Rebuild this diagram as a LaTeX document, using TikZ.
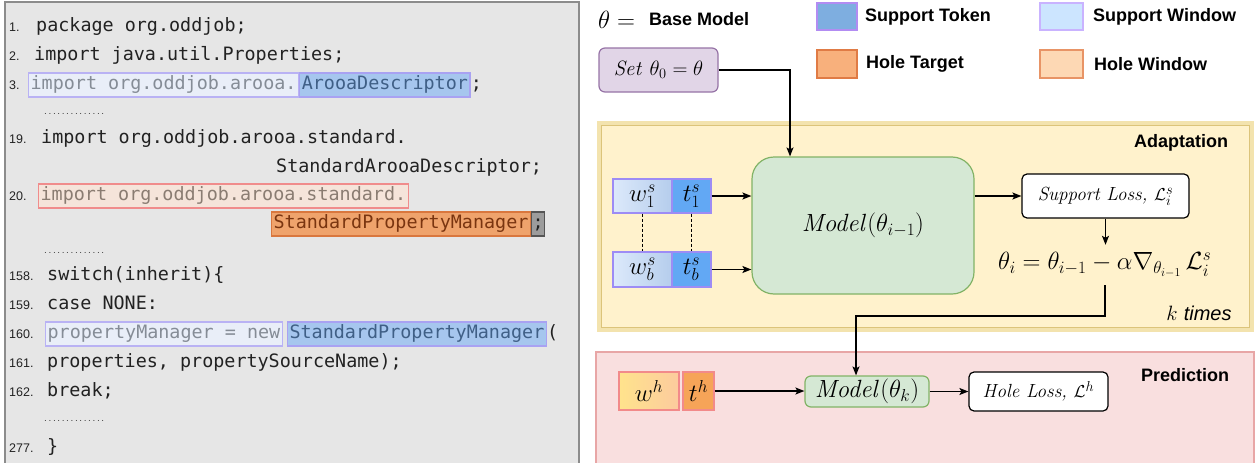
\documentclass[tikz,border=0pt]{standalone}
\usepackage[no-math]{fontspec}
\usetikzlibrary{arrows.meta}
\newfontfamily\labfont{Liberation Sans}
\newfontfamily\codefont{DejaVu Sans Mono}
\definecolor{panelfill}{HTML}{E6E6E6}
\definecolor{panelline}{HTML}{8C8C8C}
\definecolor{codetext}{HTML}{222222}
\definecolor{swinfill}{HTML}{E9EEF8}
\definecolor{swinline}{HTML}{B9B2F4}
\definecolor{swintext}{HTML}{858C96}
\definecolor{stokfill}{HTML}{A6C6EE}
\definecolor{stokline}{HTML}{A9A2F2}
\definecolor{stoktext}{HTML}{3F5F86}
\definecolor{hwinfill}{HTML}{F5E4DA}
\definecolor{hwinline}{HTML}{F08C8C}
\definecolor{hwintext}{HTML}{8A7C72}
\definecolor{htokfill}{HTML}{EFA36C}
\definecolor{htokline}{HTML}{D9773E}
\definecolor{htoktext}{HTML}{7A3510}
\definecolor{semifill}{HTML}{9C9C9C}
\definecolor{semiline}{HTML}{555555}
\definecolor{adfill}{HTML}{FFF2CC}
\definecolor{adout}{HTML}{F3E3AE}
\definecolor{adline}{HTML}{DCC47A}
\definecolor{prfill}{HTML}{F9DFDF}
\definecolor{prline}{HTML}{E8A6A6}
\definecolor{mfill}{HTML}{D5E8D4}
\definecolor{mline}{HTML}{82B366}
\definecolor{setfill}{HTML}{E1D5E7}
\definecolor{setline}{HTML}{9673A6}
\definecolor{legtokfill}{HTML}{7EAEE0}
\definecolor{legtokline}{HTML}{B28CF2}
\definecolor{legwinfill}{HTML}{CCE5FF}
\definecolor{legwinline}{HTML}{C9B3FF}
\definecolor{leghtfill}{HTML}{F8B07C}
\definecolor{leghtline}{HTML}{E07B45}
\definecolor{leghwfill}{HTML}{FDD8B4}
\definecolor{leghwline}{HTML}{E89466}
\definecolor{wleft}{HTML}{DCE9FB}
\definecolor{wright}{HTML}{B5CDEC}
\definecolor{tfill}{HTML}{62A8F4}
\definecolor{wsline}{HTML}{9D8CF5}
\definecolor{whleft}{HTML}{FFE38C}
\definecolor{whright}{HTML}{FCCB9E}
\definecolor{thfill}{HTML}{F6A458}
\definecolor{whline}{HTML}{F28A8A}
\begin{document}
\begin{tikzpicture}[x=1pt,y=-1pt,
  code/.style={font=\codefont\fontsize{18.4}{20}\selectfont, text=codetext, inner sep=0pt, anchor=base west},
  lnum/.style={font=\labfont\fontsize{12.5}{14}\selectfont, text=codetext, inner sep=0pt, anchor=base west},
  dots/.style={inner sep=0pt, anchor=base west, text=codetext},
  hlbox/.style={code, inner xsep=2pt, inner ysep=2pt, text height=14pt, text depth=6pt, line width=1.3pt},
  swin/.style={hlbox, fill=swinfill, draw=swinline, text=swintext},
  stok/.style={hlbox, fill=stokfill, draw=stokline, text=stoktext},
  hwin/.style={hlbox, fill=hwinfill, draw=hwinline, text=hwintext},
  htok/.style={hlbox, fill=htokfill, draw=htokline, text=htoktext},
  semibox/.style={hlbox, inner xsep=1pt, fill=semifill, draw=semiline, text=codetext},
  lab/.style={font=\labfont\bfseries\fontsize{18}{20}\selectfont, text=black, inner sep=0pt, anchor=west},
  legbox/.style={line width=1.5pt},
  arr/.style={-{Stealth[length=9pt,width=7pt,inset=2pt]}, line width=1.2pt, black},
  mathbig/.style={font=\fontsize{25}{27}\selectfont}
]
\useasboundingbox (0,0) rectangle (1256,463);

% ---------------- left panel ----------------
\fill[panelfill] (5,2) rectangle (579,463);
\draw[panelline, line width=1.5pt] (5,463) -- (5,2) -- (579,2) -- (579,463);

\node[lnum] (n1) at (9,31) {1.};
\node[code] (c1) at (36,31) {package org.oddjob;};
\node[lnum] (n2) at (9,60) {2.};
\node[code] (c2) at (34,60) {import java.util.Properties;};
\node[lnum] (n3) at (9,89) {3.};
\node[swin, anchor=base west] (c3a) at (28,89) {import org.oddjob.arooa.};
\node[stok, anchor=base west] (c3b) at (c3a.base east) {ArooaDescriptor};
\node[code] (c3c) at (c3b.base east) {;};
\node[dots] (d1) at (42,114) {\makebox[64pt][l]{\fontsize{10}{10}\selectfont\dotfill}};
\node[lnum] (n19) at (9,143) {19.};
\node[code] (c19) at (41,143) {import org.oddjob.arooa.standard.};
\node[code] (c19b) at (276,172) {StandardArooaDescriptor;};
\node[lnum] (n20) at (9,200) {20.};
\node[hwin, anchor=base west] (c20a) at (38,200) {import org.oddjob.arooa.standard.};
\node[htok, anchor=base west] (c20b) at (271,228) {StandardPropertyManager};
\node[semibox, anchor=base west] (c20c) at (c20b.base east) {;};
\node[dots] (d2) at (42,253) {\makebox[64pt][l]{\fontsize{10}{10}\selectfont\dotfill}};
\node[lnum] (n158) at (9,280) {158.};
\node[code] (c158) at (47,280) {switch(inherit)\{};
\node[lnum] (n159) at (9,309) {159.};
\node[code] (c159) at (47,309) {case NONE:};
\node[lnum] (n160) at (9,338) {160.};
\node[swin, anchor=base west] (c160a) at (45,338) {propertyManager = new};
\node[stok, anchor=base west] (c160b) at ([xshift=4pt]c160a.base east) {StandardPropertyManager};
\node[code] (c160c) at (c160b.base east) {(};
\node[lnum] (n161) at (9,367) {161.};
\node[code] (c161) at (47,367) {properties, propertySourceName);};
\node[lnum] (n162) at (9,396) {162.};
\node[code] (c162) at (47,396) {break;};
\node[dots] (d3) at (42,421) {\makebox[64pt][l]{\fontsize{10}{10}\selectfont\dotfill}};
\node[lnum] (n277) at (9,452) {277.};
\node[code] (c277) at (47,452) {\}};

% ---------------- legend ----------------
\node[inner sep=0pt, anchor=west] (theta) at (598,20) {\fontsize{23}{25}\selectfont$\theta=$};
\node[lab] (base) at (649,19) {Base Model};
\draw[legbox, fill=legtokfill, draw=legtokline] (817,3) rectangle (857,30);
\node[lab] (lst) at (865,17) {Support Token};
\draw[legbox, fill=legwinfill, draw=legwinline] (1040,3) rectangle (1083,30);
\node[lab] (lsw) at (1093,17) {Support Window};
\draw[legbox, fill=leghtfill, draw=leghtline] (817,50) rectangle (857,78);
\node[lab] (lht) at (866,64) {Hole Target};
\draw[legbox, fill=leghwfill, draw=leghwline] (1040,50) rectangle (1083,78);
\node[lab] (lhw) at (1094,64) {Hole Window};

% ---------------- Set box ----------------
\node[draw=setline, fill=setfill, line width=1.2pt, rounded corners=6pt, minimum width=119pt, minimum height=44pt, inner sep=0pt] (set) at (658.5,70) {\fontsize{21.5}{23}\selectfont$\mathit{Set}\ \theta_0=\theta$};

% ---------------- Adaptation ----------------
\draw[adout, fill=adfill, line width=5pt] (599,123) rectangle (1251,329);
\draw[adline, line width=0.9pt] (601,125) rectangle (1249,327);
\node[lab, anchor=center] (adlab) at (1181,143) {Adaptation};

\node[draw=mline, fill=mfill, line width=1.2pt, rounded corners=22pt, minimum width=222pt, minimum height=137pt, inner sep=0pt] (model) at (863,225.5) {\fontsize{23.5}{25}\selectfont$\mathit{Model}(\theta_{i-1})$};

\node[draw=wsline, line width=1.3pt, left color=wleft, right color=wright, minimum width=59pt, minimum height=34pt, inner sep=0pt, mathbig] (w1) at (642.5,196) {$w_1^s$};
\node[draw=wsline, line width=1.3pt, fill=tfill, minimum width=39pt, minimum height=34pt, inner sep=0pt, mathbig] (t1) at (691.5,196) {$t_1^s$};
\node[draw=wsline, line width=1.3pt, left color=wleft, right color=wright, minimum width=59pt, minimum height=35pt, inner sep=0pt, mathbig] (wb) at (642.5,269.5) {$w_b^s$};
\node[draw=wsline, line width=1.3pt, fill=tfill, minimum width=39pt, minimum height=35pt, inner sep=0pt, mathbig] (tb) at (691.5,269.5) {$t_b^s$};
\draw[line width=0.8pt, dash pattern=on 3pt off 2pt] (w1.south) -- (wb.north);
\draw[line width=0.8pt, dash pattern=on 3pt off 2pt] (t1.south) -- (tb.north);
\draw[arr] (t1.east) -- (t1.east -| model.west);
\draw[arr] (tb.east) -- (tb.east -| model.west);

\node[draw=black, fill=white, line width=1.2pt, rounded corners=5pt, minimum width=167pt, minimum height=44pt, inner sep=0pt] (sloss) at (1105.5,196) {\fontsize{19}{21}\selectfont\itshape Support Loss, $\mathcal{L}_i^s$};
\draw[arr] (model.east |- sloss.west) -- (sloss.west);

\node[inner sep=0pt, minimum height=40pt, anchor=west] (upd) at (998,265) {\fontsize{24.5}{26}\selectfont$\theta_i=\theta_{i-1}-\alpha\nabla_{\theta_{i-1}}\,\mathcal{L}_i^s$};
\draw[arr] (sloss.south) -- (sloss.south |- upd.north);
\node[inner sep=0pt, anchor=center] (ktimes) at (1199,313) {\fontsize{20}{22}\selectfont$k$ {\labfont\itshape times}};

\coordinate (turn1) at (1105,316);
\coordinate (turn2) at (856,316);

% ---------------- Prediction ----------------
\fill[prfill] (596,352) rectangle (1254,463);
\draw[prline, line width=2pt] (596,463) -- (596,352) -- (1254,352) -- (1254,463);
\node[lab, anchor=center] (prlab) at (1185,375) {Prediction};

\node[draw=whline, line width=1.3pt, left color=whleft, right color=whright, minimum width=60pt, minimum height=38pt, inner sep=0pt, mathbig] (wh) at (649,391) {$w^h$};
\node[draw=whline, line width=1.3pt, fill=thfill, minimum width=31pt, minimum height=38pt, inner sep=0pt, mathbig] (th) at (698.5,391) {$t^h$};
\node[draw=mline, fill=mfill, line width=1.2pt, rounded corners=6pt, minimum width=124pt, minimum height=31pt, inner sep=0pt] (modelk) at (867,391.5) {\fontsize{23.5}{25}\selectfont$\mathit{Model}(\theta_k)$};
\node[draw=black, fill=white, line width=1.2pt, rounded corners=5pt, minimum width=139pt, minimum height=39pt, inner sep=0pt] (hloss) at (1038.5,391.5) {\fontsize{19}{21}\selectfont\itshape Hole Loss, $\mathcal{L}^h$};
\draw[arr] (th.east) -- (th.east -| modelk.west);
\draw[arr] (modelk.east) -- (hloss.west);

% ---------------- connectors ----------------
\draw[arr] (set.east) -| ([xshift=-73pt]model.north);
\draw[arr] (upd.south -| turn1) -- (turn1) -- (turn2) -- (modelk.north -| turn2);
\end{tikzpicture}
\end{document}
